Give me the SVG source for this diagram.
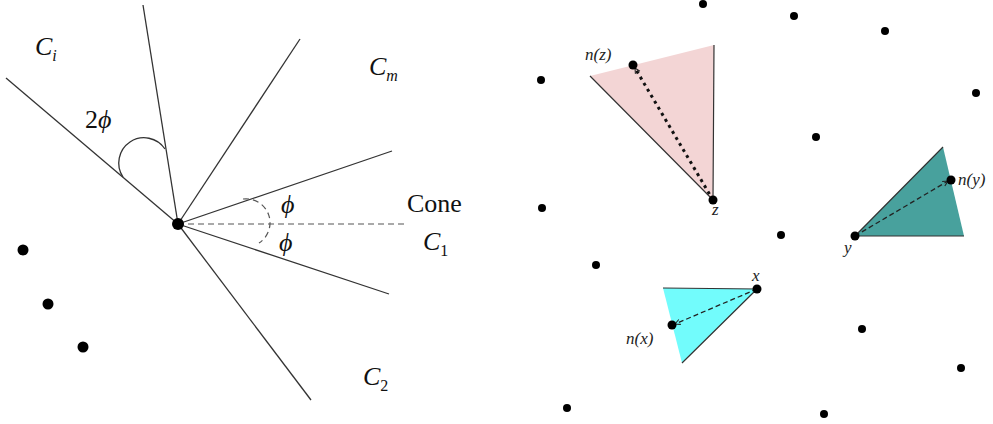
<svg xmlns="http://www.w3.org/2000/svg" width="993" height="424" viewBox="0 0 993 424">
<style>
.ln{stroke:#333;stroke-width:1.3;fill:none}
.dl{stroke:#555;stroke-width:1.2;fill:none;stroke-dasharray:6 4}
.big{font-family:"Liberation Serif",serif;font-size:26px;fill:#111}
.it{font-style:italic}
.sm{font-family:"Liberation Serif",serif;font-style:italic;font-size:17px;fill:#222}
.dot{fill:#000}
.edge{stroke:#333;stroke-width:1.2;fill:none}
</style>
<defs>
<marker id="ah" viewBox="0 0 8 8" refX="7" refY="4" markerWidth="7" markerHeight="7" orient="auto" markerUnits="userSpaceOnUse">
<path d="M1,1 L7,4 L1,7" fill="none" stroke="#222" stroke-width="1.2"/>
</marker>
</defs>
<rect width="993" height="424" fill="#fff"/>
<g id="left-cones">
<g id="rays">
<line class="ln" x1="178" y1="224" x2="6" y2="78"/>
<line class="ln" x1="178" y1="224" x2="143" y2="5"/>
<line class="ln" x1="178" y1="224" x2="300" y2="39"/>
<line class="ln" x1="178" y1="224" x2="392" y2="151"/>
<line class="dl" x1="178" y1="224" x2="407" y2="224"/>
<line class="ln" x1="178" y1="224" x2="389" y2="294"/>
<line class="ln" x1="178" y1="224" x2="311" y2="400"/>
<path class="ln" d="M123,177 A25,25 0 1 1 165,149"/>
<path class="dl" d="M243,199 A24,24 0 0 1 259,243" stroke-dasharray="5 4"/>
</g>
<g id="apex"><circle class="dot" cx="178" cy="224" r="6"/></g>
<g id="left-dots">
<circle class="dot" cx="23" cy="250" r="5.5"/>
<circle class="dot" cx="48" cy="304" r="5.5"/>
<circle class="dot" cx="83" cy="347" r="5.5"/>
</g>
<g id="labels-left">
<text class="big it" x="35" y="55">C<tspan font-size="16" dy="6">i</tspan></text>
<text class="big it" x="369" y="75">C<tspan font-size="16" dy="6">m</tspan></text>
<text class="big" x="85" y="128">2<tspan class="it">ϕ</tspan></text>
<text class="big it" x="281" y="213">ϕ</text>
<text class="big it" x="279" y="251">ϕ</text>
<text class="big" x="407" y="212" font-size="29">Cone</text>
<text class="big it" x="423" y="250">C<tspan font-size="16" font-style="normal" dy="6">1</tspan></text>
<text class="big it" x="363" y="385">C<tspan font-size="16" font-style="normal" dy="6">2</tspan></text>
</g>
</g>
<g id="right-points">
<g id="node-z">
<polygon points="590,76 714,45 713,200" fill="#f3d5d5"/>
<path class="edge" d="M590,76 L713,200 L714,45"/>
</g>
<g id="node-y">
<polygon points="855,236 943,147 964,236" fill="#48a19d"/>
<path class="edge" d="M943,147 L855,236 L964,236"/>
</g>
<g id="node-x">
<polygon points="663,288 757,289 682,363" fill="#72fcfc"/>
<path class="edge" d="M663,288 L757,289 L682,363"/>
</g>
<g id="connectors">
<line x1="713" y1="200" x2="635" y2="68" stroke="#111" stroke-width="3" stroke-dasharray="3 4" marker-end="url(#ah)"/>
<line x1="855" y1="236" x2="948" y2="181" stroke="#222" stroke-width="1.3" stroke-dasharray="5 3" marker-end="url(#ah)"/>
<line x1="757" y1="289" x2="675" y2="324" stroke="#222" stroke-width="1.3" stroke-dasharray="5 3" marker-end="url(#ah)"/>
</g>
<g id="points">
<circle class="dot" cx="633" cy="65" r="4.5"/>
<circle class="dot" cx="713" cy="200" r="4.5"/>
<circle class="dot" cx="855" cy="236" r="4.5"/>
<circle class="dot" cx="951" cy="180" r="4.5"/>
<circle class="dot" cx="757" cy="289" r="4.5"/>
<circle class="dot" cx="672" cy="325" r="4.5"/>
<circle class="dot" cx="703" cy="4" r="4"/>
<circle class="dot" cx="794" cy="16" r="4"/>
<circle class="dot" cx="885" cy="31" r="4"/>
<circle class="dot" cx="541" cy="80" r="4"/>
<circle class="dot" cx="976" cy="93" r="4"/>
<circle class="dot" cx="816" cy="137" r="4"/>
<circle class="dot" cx="542" cy="208" r="4"/>
<circle class="dot" cx="781" cy="235" r="4"/>
<circle class="dot" cx="596" cy="265" r="4"/>
<circle class="dot" cx="862" cy="329" r="4"/>
<circle class="dot" cx="961" cy="368" r="4"/>
<circle class="dot" cx="567" cy="408" r="4"/>
<circle class="dot" cx="824" cy="414" r="4"/>
</g>
<g id="labels-right">
<text class="sm" x="585" y="60">n(z)</text>
<text class="sm" x="712" y="215">z</text>
<text class="sm" x="958" y="185">n(y)</text>
<text class="sm" x="844" y="253">y</text>
<text class="sm" x="752" y="281">x</text>
<text class="sm" x="626" y="344">n(x)</text>
</g>
</g>
</svg>
